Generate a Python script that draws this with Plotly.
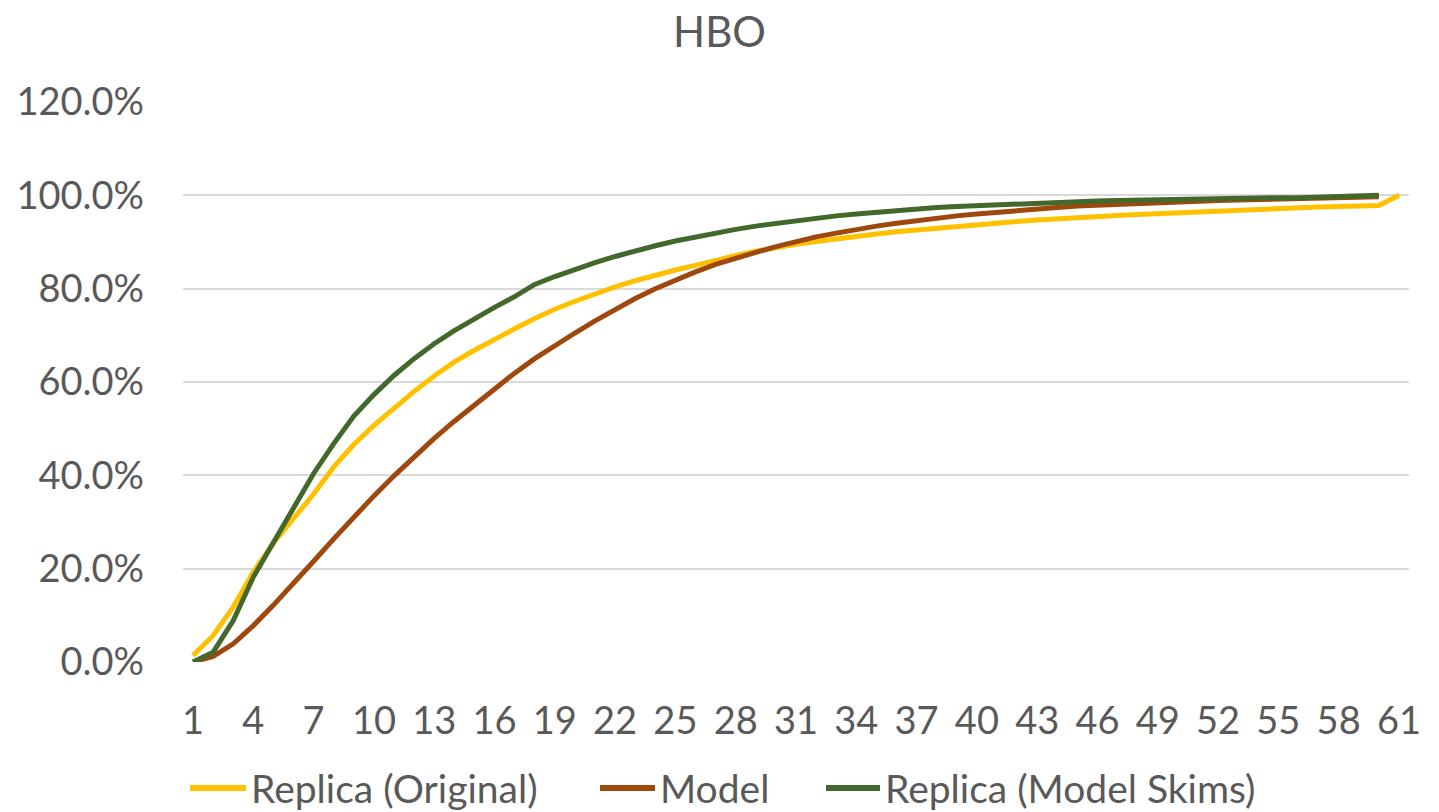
import plotly.graph_objects as go

# Categories (periods 1..61)
periods = list(range(1, 62))

# Cumulative shares, in percent
replica_original = [
    1.4, 5.7, 11.8, 19.3, 25.5, 30.8, 36.0, 41.8, 46.6, 50.7,
    54.5, 58.0, 61.3, 64.3, 66.8, 69.2, 71.4, 73.6, 75.6, 77.3,
    78.9, 80.4, 81.7, 82.9, 84.0, 85.0, 86.1, 87.1, 88.0, 88.8,
    89.5, 90.1, 90.7, 91.2, 91.7, 92.2, 92.6, 93.0, 93.4, 93.8,
    94.1, 94.4, 94.7, 95.0, 95.3, 95.5, 95.7, 95.9, 96.1, 96.3,
    96.5, 96.7, 96.9, 97.0, 97.2, 97.3, 97.5, 97.6, 97.7, 97.8,
    100.0,
]

model = [
    0.0, 1.2, 3.9, 7.8, 12.2, 16.8, 21.6, 26.4, 31.1, 35.6,
    39.9, 44.0, 47.9, 51.6, 55.1, 58.6, 61.9, 65.0, 67.9, 70.5,
    73.1, 75.6, 77.9, 80.0, 81.9, 83.6, 85.2, 86.6, 87.8, 89.0,
    90.1, 91.1, 91.9, 92.7, 93.4, 94.0, 94.6, 95.1, 95.6, 96.0,
    96.4, 96.8, 97.1, 97.4, 97.7, 97.9, 98.1, 98.3, 98.5, 98.7,
    98.8, 98.9, 99.0, 99.1, 99.2, 99.3, 99.4, 99.5, 99.6, 99.7,
]

replica_model_skims = [
    0.0, 2.1, 8.9, 18.2, 25.6, 33.0, 40.4, 46.8, 52.7, 57.3,
    61.4, 65.0, 68.2, 71.0, 73.6, 76.0, 78.3, 80.9, 82.6, 84.2,
    85.6, 86.9, 88.1, 89.2, 90.2, 91.1, 91.9, 92.7, 93.4, 94.0,
    94.6, 95.1, 95.6, 96.0, 96.4, 96.8, 97.1, 97.4, 97.6, 97.8,
    98.0, 98.2, 98.4, 98.5, 98.7, 98.8, 98.9, 99.0, 99.1, 99.2,
    99.3, 99.3, 99.4, 99.4, 99.5, 99.5, 99.6, 99.6, 99.7, 100.0,
]

x_ticks = list(range(1, 62, 3))
y_ticks = [0, 0.2, 0.4, 0.6, 0.8, 1.0, 1.2]

FONT = "Lato, 'Open Sans', sans-serif"
TEXT = "#595959"

series = [
    ("Replica (Original)", replica_original, "#FFC000"),
    ("Model", model, "#9E480E"),
    ("Replica (Model Skims)", replica_model_skims, "#43682B"),
]

W, H = 1439, 812
ML, MR, MT, MB = 183, 30, 102, 150
PW, PH = W - ML - MR, H - MT - MB


def px_x(p):
    """Horizontal pixel -> paper fraction."""
    return (p - ML) / PW


def px_y(p):
    """Vertical pixel (from top) -> paper fraction."""
    return (H - MB - p) / PH


fig = go.Figure()
for name, vals, color in series:
    fig.add_trace(go.Scatter(
        x=periods[:len(vals)],
        y=[v / 100 for v in vals],
        mode="lines",
        name=name,
        line=dict(color=color, width=5),
        showlegend=False,
    ))

# Legend row below the axis: short line sample followed by the series name
legend_pos = [(190, 246), (600, 655), (826, 880)]
legend_y = 788
for (name, _, color), (x0, x1) in zip(series, legend_pos):
    fig.add_shape(
        type="line", xref="paper", yref="paper",
        x0=px_x(x0), x1=px_x(x1), y0=px_y(legend_y), y1=px_y(legend_y),
        line=dict(color=color, width=6),
    )
    fig.add_annotation(
        text=name, xref="paper", yref="paper",
        x=px_x(x1 + 3), y=px_y(legend_y),
        xanchor="left", yanchor="middle", showarrow=False,
        font=dict(family=FONT, size=39, color=TEXT),
    )

fig.update_layout(
    width=W,
    height=H,
    paper_bgcolor="white",
    plot_bgcolor="white",
    margin=dict(l=ML, r=MR, t=MT, b=MB),
    font=dict(family=FONT, size=38, color=TEXT),
    title=dict(
        text="HBO",
        x=0.5, xanchor="center",
        y=1 - 32 / H, yanchor="middle",
        font=dict(family=FONT, size=42, color=TEXT),
    ),
    showlegend=False,
)

fig.update_xaxes(
    range=[0.5, 61.5],
    tickvals=x_ticks,
    ticktext=[str(t) for t in x_ticks],
    showgrid=False,
    zeroline=False,
    showline=False,
    ticks="",
    ticklabelstandoff=33,
    tickfont=dict(family=FONT, size=38, color=TEXT),
)

fig.update_yaxes(
    range=[0, 1.2],
    tickvals=y_ticks,
    tickformat=".1%",
    showgrid=True,
    gridcolor="#D9D9D9",
    gridwidth=1.5,
    zeroline=False,
    showline=False,
    ticks="",
    ticklabelstandoff=38,
    tickfont=dict(family=FONT, size=38, color=TEXT),
)

fig.write_html("out.html")
